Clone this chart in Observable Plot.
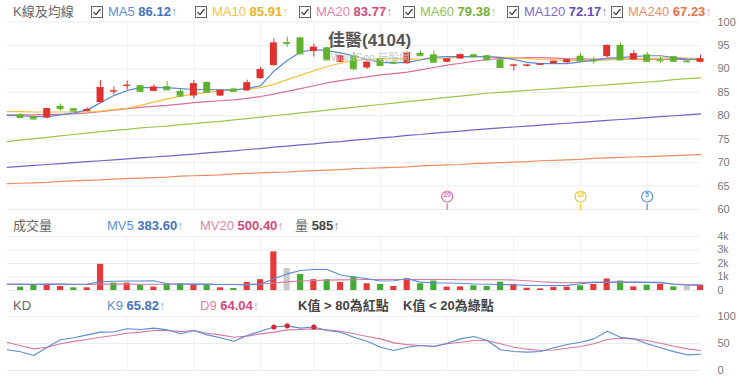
<!DOCTYPE html>
<html><head><meta charset="utf-8">
<script src="https://cdn.jsdelivr.net/npm/d3@7"></script>
<script src="https://cdn.jsdelivr.net/npm/@observablehq/plot@0.6"></script>
<style>
body{margin:0;background:#fff;font-family:"Liberation Sans","Noto Sans CJK TC",sans-serif;}
#wrap{position:relative;width:740px;height:376px;overflow:hidden;background:#fff;}
.abs{position:absolute;white-space:nowrap;font-size:13px;line-height:16px;}
.panel{position:absolute;left:0;}
.b{font-weight:bold;}
.ar{font-weight:normal;opacity:.7;font-size:12px;}
.cb{display:inline-block;vertical-align:-2px;margin-right:5px;}
</style></head>
<body><div id="wrap"></div>
<script>
// ---------- data ----------
const candleIndex = d3.range(0, 52);
const lineIndex = d3.range(-1, 52);
const openPrice = [80.2,79.8,79.5,82.0,81.5,80.9,82.8,85.1,86.3,86.4, 85.2,86.2,85.2,84.2,87.1,84.2,85.7,85.3,87.9,90.7, 95.6,96.6,93.7,94.5,91.4,92.8,90.2,92.1,91.4,91.1, 93.3,93.0,91.4,92.1,93.0,92.8,91.9,90.6,90.6,90.8, 91.1,91.3,92.7,91.9,92.6,95.0,91.9,93.0,91.9,92.6, 91.7,91.4];
const closePrice = [79.6,79.3,81.5,81.5,81.0,81.3,86.0,85.3,86.5,85.2, 86.1,85.5,84.2,86.8,85.0,85.4,85.2,87.0,89.8,95.5, 95.4,93.2,94.6,91.9,92.8,90.0,91.4,90.7,91.2,93.5, 92.8,91.4,92.1,93.0,92.6,91.9,90.3,90.8,90.8,91.0, 91.6,91.9,91.7,91.7,95.0,91.9,93.2,91.6,91.7,91.6, 91.5,92.1];
const highPrice = [80.4,79.9,81.6,82.5,81.6,81.7,87.5,86.2,87.4,86.5, 86.6,87.3,85.6,87.5,87.2,85.5,85.9,87.6,90.3,96.4, 96.8,96.7,95.3,94.6,93.0,93.5,91.5,92.2,91.8,93.6, 93.8,93.8,92.2,93.2,93.1,92.9,92.0,91.0,91.0,91.1, 91.7,92.0,93.3,92.5,95.1,95.5,93.9,93.5,92.5,92.7, 91.8,92.9];
const lowPrice = [79.4,79.1,79.3,81.0,80.9,80.8,82.7,84.5,85.5,85.1, 85.1,85.4,84.0,83.6,84.9,84.1,85.1,85.2,87.8,90.6, 94.6,93.1,92.5,91.8,91.3,89.6,89.9,90.6,90.9,91.0, 92.7,91.3,91.3,92.0,92.3,91.8,90.2,89.6,90.4,90.7, 91.0,91.2,91.6,91.0,92.4,91.8,91.8,91.5,91.2,91.5, 91.4,91.3];

const ma5 = [80.1,80.0,79.8,79.8,80.2,80.6,81.2,82.8,84.3,85.4,86.0,86.0,86.0,85.8,85.6,85.6,85.5,85.5,85.8,86.4,89.5,91.8,93.6,94.1,93.9,93.4,92.8,92.0,91.4,91.3,91.4,91.9,92.5,92.6,92.6,92.6,92.6,92.4,92.0,91.4,91.1,91.1,91.1,91.5,91.8,92.3,92.4,92.6,92.8,92.8,92.4,92.1,91.9];
const ma10 = [80.9,80.9,80.8,80.8,80.8,80.8,80.8,81.0,81.3,81.6,82.2,82.9,83.6,84.2,84.6,85.0,85.3,85.5,85.7,86.0,86.7,87.7,88.6,89.6,90.5,91.2,91.8,92.0,92.2,92.2,92.1,92.1,92.2,92.3,92.5,92.6,92.6,92.5,92.4,92.2,92.0,91.9,91.8,91.8,91.8,91.9,92.0,92.1,92.2,92.3,92.3,92.3,92.2];
const ma20 = [80.2,80.2,80.2,80.3,80.3,80.4,80.6,80.9,81.2,81.5,81.8,82.0,82.2,82.5,82.8,83.0,83.2,83.4,83.7,84.1,84.6,85.2,85.8,86.4,87.0,87.5,87.9,88.3,88.7,89.0,89.3,89.8,90.3,90.8,91.2,91.6,92.0,92.2,92.3,92.4,92.4,92.3,92.2,92.1,92.1,92.1,92.1,92.1,92.1,92.1,92.0,92.0,92.0];
const ma60 = [74.5,74.8,75.1,75.4,75.7,76.0,76.3,76.6,76.9,77.1,77.4,77.6,77.8,78.1,78.3,78.6,78.8,79.1,79.4,79.7,80.0,80.3,80.6,80.9,81.2,81.5,81.8,82.1,82.4,82.7,83.0,83.3,83.6,83.9,84.2,84.5,84.8,85.0,85.2,85.4,85.6,85.8,86.0,86.2,86.4,86.6,86.8,87.0,87.2,87.4,87.7,87.9,88.1];
const ma120 = [69.0,69.2,69.4,69.6,69.8,70.0,70.2,70.4,70.6,70.8,71.0,71.2,71.4,71.6,71.8,72.1,72.3,72.5,72.8,73.0,73.3,73.5,73.8,74.0,74.3,74.5,74.8,75.0,75.3,75.5,75.8,76.0,76.3,76.5,76.7,77.0,77.2,77.4,77.6,77.8,78.0,78.2,78.4,78.6,78.8,79.0,79.2,79.4,79.6,79.8,80.0,80.2,80.4];
const ma240 = [65.5,65.6,65.7,65.8,66.0,66.1,66.2,66.3,66.5,66.6,66.7,66.8,66.9,67.1,67.2,67.3,67.4,67.6,67.7,67.8,67.9,68.0,68.2,68.3,68.4,68.5,68.7,68.8,68.9,69.0,69.1,69.3,69.4,69.5,69.6,69.8,69.9,70.0,70.1,70.2,70.4,70.5,70.6,70.7,70.9,71.0,71.1,71.2,71.3,71.4,71.5,71.6,71.7];

const volume = [250,450,450,300,200,200,1940,550,550,400, 250,500,500,370,450,200,150,600,800,2860, 1620,1190,800,800,600,1000,500,450,300,870, 500,700,250,270,350,300,620,450,170,120, 220,250,350,450,850,700,270,400,450,270, 300,400];
const volumeDir = ["d","d","u","u","d","u","u","d","u","d", "u","d","d","u","d","u","d","u","u","u", "f","d","u","d","u","d","u","d","u","u", "d","d","u","u","d","d","d","u","u","u", "u","u","d","u","u","d","u","d","u","d", "f","u"];
const mv5 = [480,470,460,470,470,460,470,650,690,700,700,720,500,470,470,470,440,440,420,480,870,1230,1480,1550,1560,1150,1000,870,700,720,870,620,560,560,540,480,460,450,430,380,370,360,380,500,600,620,630,620,600,600,460,390,384];
const mv20 = [450,450,450,455,455,450,450,470,470,470,460,460,460,460,455,455,450,450,450,480,560,640,700,740,770,790,800,810,810,810,820,820,810,810,800,800,800,800,780,720,650,600,570,600,600,600,600,600,600,550,480,440,420];

const kValue = [38.3,34.6,27.8,43.2,56.8,60.5,66,71,71.6,77.2,76,78.4,75.3,68,74,66,60.5,54.3,64.8,72.8,80.6,82.7,78.5,80.5,74,71,61.7,54,43.2,37,43,46.3,44.4,50.6,58.6,63,55.5,38.3,35.2,34,35.2,42,48,52.4,58.6,72.8,61.7,58.6,49.4,42,35,29,30];
const dValue = [52.4,46,40,43,49.4,54,57.4,61.7,64.8,69,71,74,74,72,74,69,66,61.7,63.6,67.9,71,75.3,76,77,75.3,72.8,67.9,63,58.6,51.2,48,46.3,45,49.4,52.4,55.5,55.5,49.4,43,39.5,37,38,41.3,44.4,49.4,57.4,59.8,58.6,55.5,50.6,45,40,37];

const priceTicks = [60,65,70,75,80,85,90,95,100];
const volumeTicks = [0,1000,2000,3000,4000];
const kdTicks = [0,50,100];
const gridIndex = [8,13,18,22,27,32,37,42,47];
const markerPeriods = [20,10,5];

// ---------- styles ----------
const RED = "#e0312e", GREEN = "#5fb22c";
const VRED = "#e8393a", VGREEN = "#3fae33", VGREY = "#c9c9c9";
const C = {ma5:"#5b8bd6", ma10:"#f3c13e", ma20:"#dd6f9d", ma60:"#9ec64c", ma120:"#7562c6", ma240:"#ee8c62"};
const markerColor = {20:"#dd6f9d", 10:"#eec23a", 5:"#5b8bd6"};

const candles = candleIndex.map((i) => ({i, open: openPrice[i], close: closePrice[i], high: highPrice[i], low: lowPrice[i]}));
const cColor = d => d.close >= d.open ? RED : GREEN;
const series = (arr) => lineIndex.map((i, k) => ({i, v: arr[k]}));
const vols = candleIndex.map(i => ({i, v: volume[i], dir: volumeDir[i]}));
const kd = lineIndex.map((i, k) => ({i, k: kValue[k], d: dValue[k]}));
const markers = markerPeriods.map(p => ({p, i: candleIndex[candleIndex.length - 1] - p + 1, color: markerColor[p]}));

const W = 740, ML = 6.7, MR = 40;
function panel(top, height, mt, mb, domain, ticks, fmt, fs, marks) {
  const svg = Plot.plot({
    width: W, height, marginLeft: ML, marginRight: MR, marginTop: mt, marginBottom: mb,
    x: {domain: [-1, 51], axis: null, label: null},
    y: {domain, axis: null, label: null},
    color: {type: "identity"},
    style: {fontFamily: "Liberation Sans, sans-serif", background: "transparent", overflow: "visible"},
    marks: [
      Plot.gridY(ticks, {stroke: "#ececec", strokeOpacity: 1}),
      Plot.ruleX(gridIndex, {stroke: "#f1f1f1", strokeOpacity: 1}),
      ...marks,
      Plot.axisY(ticks, {anchor: "right", label: null, tickSize: 0, tickPadding: 17, tickFormat: fmt, fill: "#777", fontSize: fs})
    ]
  });
  svg.classList.add("panel");
  svg.style.top = top + "px";
  return svg;
}

const wrap = document.getElementById("wrap");
const bw = 0.26;

// price panel
wrap.appendChild(panel(0, 215, 21.5, 6, [60, 100], priceTicks, d => d, 11, [
  Plot.line(series(ma240), {x: "i", y: "v", stroke: C.ma240, strokeWidth: 1.2}),
  Plot.line(series(ma120), {x: "i", y: "v", stroke: C.ma120, strokeWidth: 1.2}),
  Plot.line(series(ma60), {x: "i", y: "v", stroke: C.ma60, strokeWidth: 1.2}),
  Plot.line(series(ma20), {x: "i", y: "v", stroke: C.ma20, strokeWidth: 1.2}),
  Plot.line(series(ma10), {x: "i", y: "v", stroke: C.ma10, strokeWidth: 1.2}),
  Plot.line(series(ma5), {x: "i", y: "v", stroke: C.ma5, strokeWidth: 1.2}),
  Plot.ruleX(candles, {x: "i", y1: "low", y2: "high", stroke: cColor, strokeWidth: 1}),
  Plot.rect(candles, {x1: d => d.i - bw, x2: d => d.i + bw, y1: "open", y2: "close", fill: cColor}),
  Plot.ruleY(candles, {y: "close", x1: d => d.i - bw, x2: d => d.i + bw, stroke: cColor, strokeWidth: 1}),
  Plot.ruleX(markers, {x: "i", stroke: "color", strokeWidth: 1.2, insetTop: 182, insetBottom: -1}),
  Plot.dot(markers, {x: "i", frameAnchor: "bottom", dy: -13, r: 5.5, stroke: "color", fill: "white", strokeWidth: 1.2}),
  Plot.text(markers, {x: "i", frameAnchor: "bottom", dy: -13, text: d => String(d.p), fill: "color", fontSize: 6.5, fontWeight: "bold"})
]));

// volume panel
const vb = 0.23;
wrap.appendChild(panel(230, 66, 6, 6, [0, 4000], volumeTicks, d => d === 0 ? "0" : (d / 1000) + "k", 10.5, [
  Plot.rectY(vols, {x1: d => d.i - vb, x2: d => d.i + vb, y: "v", fill: d => d.dir === "u" ? VRED : d.dir === "d" ? VGREEN : VGREY}),
  Plot.line(series(mv20), {x: "i", y: "v", stroke: "#d97aa4", strokeWidth: 1.1}),
  Plot.line(series(mv5), {x: "i", y: "v", stroke: "#5b8bd6", strokeWidth: 1.1})
]));

// KD panel
wrap.appendChild(panel(310, 66, 6, 6, [0, 100], kdTicks, d => d, 11, [
  Plot.line(kd, {x: "i", y: "d", stroke: "#d9779f", strokeWidth: 1.1}),
  Plot.line(kd, {x: "i", y: "k", stroke: "#5b8bd6", strokeWidth: 1.1}),
  Plot.dot(kd.filter(d => d.k > 80), {x: "i", y: "k", r: 2.6, fill: "#d42a2f"}),
  Plot.dot(kd.filter(d => d.k < 20), {x: "i", y: "k", r: 2.6, fill: "#3fae33"})
]));

// ---------- legends ----------
const cb = '<svg class="cb" width="12" height="12"><rect x="0.5" y="0.5" width="11" height="11" fill="white" stroke="#666"/><polyline points="2.5,6 5,8.5 9.5,3" fill="none" stroke="#444" stroke-width="1.2"/></svg>';
function add(html, left, top, style) {
  const d = document.createElement("div");
  d.className = "abs"; d.style.left = left + "px"; d.style.top = top + "px";
  if (style) d.setAttribute("style", d.getAttribute("style") + ";" + style);
  d.innerHTML = html; wrap.appendChild(d);
}
const maLegend = [
  {label: "MA5", val: "86.12", lc: "#5b8fd9", vc: "#4473c4", x: 91},
  {label: "MA10", val: "85.91", lc: "#f4c24a", vc: "#efb12a", x: 195},
  {label: "MA20", val: "83.77", lc: "#e283aa", vc: "#d6487a", x: 299},
  {label: "MA60", val: "79.38", lc: "#8fc35a", vc: "#76b038", x: 403},
  {label: "MA120", val: "72.17", lc: "#7d6ad2", vc: "#6150bd", x: 507},
  {label: "MA240", val: "67.23", lc: "#f08d6c", vc: "#e8734b", x: 611}
];
add("K線及均線", 13, 4, "color:#666");
maLegend.forEach(m => add(`${cb}<span style="color:${m.lc}">${m.label} </span><span class="b" style="color:${m.vc}">${m.val}</span><span class="ar" style="color:${m.vc}">↑</span>`, m.x, 4));

add("成交量", 13, 218, "color:#666");
add(`<span style="color:#5b8fd9">MV5 </span><span class="b" style="color:#4473c4">383.60</span><span class="ar" style="color:#4473c4">↑</span>`, 107, 218);
add(`<span style="color:#e283aa">MV20 </span><span class="b" style="color:#d6487a">500.40</span><span class="ar" style="color:#d6487a">↑</span>`, 200, 218);
add(`<span style="color:#666">量 </span><span class="b" style="color:#444">585</span><span class="ar" style="color:#444">↑</span>`, 295, 218);

add("KD", 13, 298, "color:#666");
add(`<span style="color:#5b8fd9">K9 </span><span class="b" style="color:#4473c4">65.82</span><span class="ar" style="color:#4473c4">↑</span>`, 107, 298);
add(`<span style="color:#e283aa">D9 </span><span class="b" style="color:#d6487a">64.04</span><span class="ar" style="color:#d6487a">↑</span>`, 200, 298);
add(`<span class="b" style="color:#444">K值 &gt; 80為紅點</span>`, 298, 298);
add(`<span class="b" style="color:#444">K值 &lt; 20為綠點</span>`, 403, 298);

add("佳醫(4104)", 328, 31, "font-size:17px;line-height:20px;font-weight:bold;color:#555");
add("WantGoo 玩股網", 331, 51, "font-size:10.5px;line-height:12px;color:#c8c8c8");
</script></body></html>
